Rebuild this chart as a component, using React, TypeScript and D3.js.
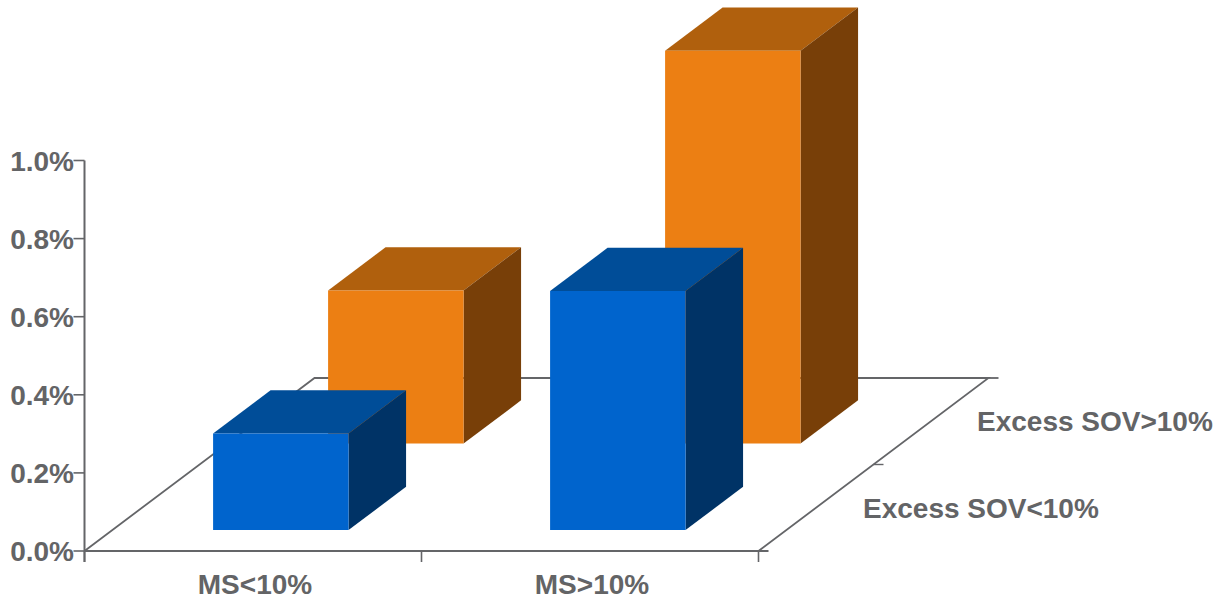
import React from "react";
import * as d3 from "d3";

// Chart values
const categories = ["MS<10%", "MS>10%"];
const depthSeries = ["Excess SOV<10%", "Excess SOV>10%"];
const sovBelow10 = [0.247, 0.612];
const sovAbove10 = [0.392, 1.006];
const valueTicks = [0, 0.2, 0.4, 0.6, 0.8, 1.0];

const seriesRows = [
  { values: sovAbove10, depth: depthSeries[1], front: "#ec7f13", top: "#b0600d", side: "#783f08" },
  { values: sovBelow10, depth: depthSeries[0], front: "#0064cd", top: "#004d98", side: "#003366" },
];

const TEXT = "#636466";
const LINE = "#646568";
const FONT = "'Liberation Sans', Arial, sans-serif";

// Oblique projection: the front edge runs along x, depth shifts up and to the right.
const xScale = d3.scaleBand<string>().domain(categories).range([84.5, 758.5]);
const yScale = d3.scaleLinear().domain([0, 1]).range([551, 160.5]);
const depthScale = d3.scaleBand<string>().domain(depthSeries).range([-0.004, 0.996]);
const depthDx = d3.scaleLinear().domain([0, 1]).range([0, 230]);
const depthDy = d3.scaleLinear().domain([0, 1]).range([0, -173]);

const project = (x: number, depth: number, value: number): [number, number] => [
  x + depthDx(depth),
  yScale(value) + depthDy(depth),
];
const polygon = (pts: [number, number][]) => pts.map((p) => p.map((n) => n.toFixed(2)).join(",")).join(" ");

function Bar({ category, depth, value, front, top, side }: {
  category: string; depth: string; value: number; front: string; top: string; side: string;
}) {
  const band = xScale.bandwidth();
  const x0 = xScale(category)! + band * 0.299;
  const x1 = xScale(category)! + band * 0.701;
  const dBand = depthScale.bandwidth();
  const d0 = depthScale(depth)! + dBand * 0.25;
  const d1 = depthScale(depth)! + dBand * 0.75;
  return (
    <g>
      <polygon
        points={polygon([project(x0, d0, value), project(x1, d0, value), project(x1, d1, value), project(x0, d1, value)])}
        fill={top}
      />
      <polygon
        points={polygon([project(x1, d0, 0), project(x1, d1, 0), project(x1, d1, value), project(x1, d0, value)])}
        fill={side}
      />
      <polygon
        points={polygon([project(x0, d0, 0), project(x1, d0, 0), project(x1, d0, value), project(x0, d0, value)])}
        fill={front}
      />
    </g>
  );
}

export default function App() {
  const [xMin, xMax] = xScale.range();
  const floor = polygon([project(xMin, 0, 0), project(xMin, 1, 0), project(xMax, 1, 0), project(xMax, 0, 0)]);
  const tickXs = [xMin, xScale(categories[1])!, xMax];
  const midDepth = project(xMax, 0.5, 0);
  const backRight = project(xMax, 1, 0);

  return (
    <svg
      width={1228}
      height={600}
      viewBox="0 0 1228 600"
      style={{ position: "absolute", left: 0, top: 0, background: "#fff" }}
      fontFamily={FONT}
      fontWeight="bold"
      fontSize={28}
      fill={TEXT}
    >
      {/* Floor outline */}
      <polyline points={floor} fill="none" stroke={LINE} strokeWidth={1.8} />
      <line x1={backRight[0]} x2={backRight[0] + 10} y1={backRight[1]} y2={backRight[1]} stroke={LINE} strokeWidth={1.8} />
      <line x1={midDepth[0]} x2={midDepth[0] + 10} y1={midDepth[1]} y2={midDepth[1]} stroke={LINE} strokeWidth={1.4} />

      {/* Value axis */}
      <line x1={xMin} x2={xMin} y1={yScale(1)} y2={562} stroke={LINE} strokeWidth={2} />
      {valueTicks.map((t) => (
        <g key={t}>
          <line x1={xMin - 11} x2={xMin} y1={yScale(t)} y2={yScale(t)} stroke={LINE} strokeWidth={1.6} />
          <text x={74} y={yScale(t) + 10} textAnchor="end">{`${t.toFixed(1)}%`}</text>
        </g>
      ))}

      {/* Category axis */}
      <line x1={xMin} x2={xMax + 10} y1={yScale(0)} y2={yScale(0)} stroke={LINE} strokeWidth={2} />
      {tickXs.map((x) => (
        <line key={x} x1={x} x2={x} y1={yScale(0)} y2={562} stroke={LINE} strokeWidth={1.6} />
      ))}
      {categories.map((c) => (
        <text key={c} x={xScale(c)! + xScale.bandwidth() / 2 + 2} y={594} textAnchor="middle">{c}</text>
      ))}

      {/* Bars, back row first */}
      {seriesRows.map((row) =>
        categories.map((c, i) => (
          <Bar key={row.depth + c} category={c} depth={row.depth} value={row.values[i]} front={row.front} top={row.top} side={row.side} />
        ))
      )}

      {/* Depth axis labels */}
      <text x={977} y={431}>{depthSeries[1]}</text>
      <text x={863} y={518}>{depthSeries[0]}</text>
    </svg>
  );
}
